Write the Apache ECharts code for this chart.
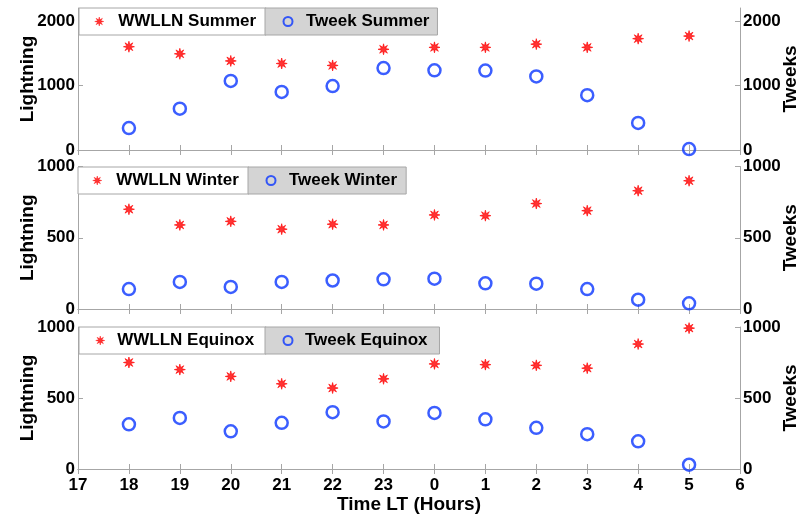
<!DOCTYPE html>
<html>
<head>
<meta charset="utf-8">
<script src="https://cdn.jsdelivr.net/npm/echarts@6/dist/echarts.min.js"></script>
<style>html,body{margin:0;padding:0;background:#fff;}#c{width:799px;height:515px;}</style>
</head>
<body>
<div id="c"></div>
<script>
const hours = [18, 19, 20, 21, 22, 23, 0, 1, 2, 3, 4, 5];
const xTickLabels = [17, 18, 19, 20, 21, 22, 23, 0, 1, 2, 3, 4, 5, 6];
const wwllnSummer = [1600, 1490, 1380, 1340, 1310, 1560, 1590, 1590, 1640, 1590, 1725, 1765];
const tweekSummer = [340, 640, 1070, 900, 990, 1270, 1235, 1230, 1140, 850, 420, 15];
const wwllnWinter = [700, 590, 615, 560, 595, 590, 660, 655, 740, 690, 830, 900];
const tweekWinter = [140, 190, 155, 190, 200, 208, 213, 180, 178, 140, 65, 40];
const wwllnEquinox = [750, 700, 652, 600, 570, 635, 740, 735, 730, 710, 880, 992];
const tweekEquinox = [315, 360, 265, 325, 400, 335, 395, 350, 290, 245, 195, 30];
const seasons = ['Summer', 'Winter', 'Equinox'];

const FONT = 'Liberation Sans';
const GRAY = '#a6a6a6';
const RED = '#ff0000';
const BLUE = '#0a36ff';
const STAR = 'path://M5,0L5.77,3.15L8.54,1.46L6.85,4.23L10,5L6.85,5.77L8.54,8.54L5.77,6.85L5,10L4.23,6.85L1.46,8.54L3.15,5.77L0,5L3.15,4.23L1.46,1.46L4.23,3.15Z';

const toX = h => (h < 17 ? h + 24 : h);
const pairs = vals => hours.map((h, i) => [toX(h), vals[i]]);

const grids = [
  {left: 78, right: 59, top: 8, height: 142},
  {left: 78, right: 59, top: 166.5, height: 142.5},
  {left: 78, right: 59, top: 327, height: 142}
].map(g => ({...g, containLabel: false, outerBoundsMode: 'none'}));
const yMax = [2200, 1000, 1000];
const yInt = [1000, 500, 500];
const wwData = [wwllnSummer, wwllnWinter, wwllnEquinox];
const twData = [tweekSummer, tweekWinter, tweekEquinox];

const xAxes = [], yAxes = [], series = [], legends = [];
const lineStyle = {color: GRAY, width: 1};
const labelStyle = {color: '#000', fontFamily: FONT, fontWeight: 'bold', fontSize: 17};
const nameStyle = {color: '#000', fontFamily: FONT, fontWeight: 'bold', fontSize: 19};

// [left, padLeft, textExtra, padRight]
const legendLayout = [
  [[79, 15.5, 9.5, 10], [265, 17.5, 8.5, 8]],
  [[78, 14.5, 9.5, 10], [248, 17.5, 8.5, 9]],
  [[79, 16.5, 7.5, 12], [265, 17.5, 7.5, 12]]
];
const legendTop = [8, 167, 327];

for (let g = 0; g < 3; g++) {
  const isLast = g === 2;
  xAxes.push({
    gridIndex: g, type: 'value', position: 'bottom', min: 17, max: 30, interval: 1,
    axisLine: {show: true, lineStyle}, axisTick: {show: true, inside: true, length: 5, lineStyle},
    splitLine: {show: false},
    axisLabel: {show: isLast, ...labelStyle, margin: 8,
      formatter: v => String(xTickLabels[Math.round(v) - 17])},
    name: isLast ? 'Time LT (Hours)' : '', nameLocation: 'middle', nameGap: 24, nameTextStyle: nameStyle
  });
  xAxes.push({
    gridIndex: g, type: 'value', position: 'top', min: 17, max: 30, interval: 1,
    axisLine: {show: true, lineStyle}, axisTick: {show: true, inside: true, length: 5, lineStyle},
    splitLine: {show: false}, axisLabel: {show: false}
  });
  const yCommon = {
    gridIndex: g, type: 'value', min: 0, max: yMax[g], interval: yInt[g],
    axisLine: {show: true, lineStyle}, axisTick: {show: true, inside: true, length: 5, lineStyle},
    splitLine: {show: false},
    axisLabel: {...labelStyle, margin: 3, showMaxLabel: g === 0 ? false : true, formatter: v => String(v)},
    nameLocation: 'middle', nameRotate: 90, nameTextStyle: nameStyle, nameMoveOverlap: false
  };
  yAxes.push({...yCommon, position: 'left', name: 'Lightning', nameGap: 41});
  yAxes.push({...yCommon, position: 'right', name: 'Tweeks', nameGap: 41});

  const n1 = 'WWLLN ' + seasons[g], n2 = 'Tweek ' + seasons[g];
  series.push({
    name: n1, type: 'scatter', xAxisIndex: 2 * g, yAxisIndex: 2 * g,
    data: pairs(wwData[g]), symbol: STAR, symbolSize: 11,
    itemStyle: {color: RED, borderColor: RED, borderWidth: 0.8},
    emphasis: {disabled: true}, silent: true, z: 3
  });
  series.push({
    name: n2, type: 'scatter', xAxisIndex: 2 * g, yAxisIndex: 2 * g + 1,
    data: pairs(twData[g]), symbol: 'circle', symbolSize: 12,
    itemStyle: {color: 'rgba(0,0,0,0)', borderColor: BLUE, borderWidth: 2.5},
    emphasis: {disabled: true}, silent: true, z: 3
  });
  const names = [n1, n2];
  const bgs = ['#ffffff', '#d4d4d4'];
  for (let k = 0; k < 2; k++) {
    const [left, pl, tx, pr] = legendLayout[g][k];
    legends.push({
      orient: 'horizontal', top: legendTop[g], left, itemWidth: 9, itemHeight: 9,
      selectedMode: false, padding: [5, pr, 5, pl], borderColor: GRAY, borderWidth: 1,
      backgroundColor: bgs[k], data: [names[k]],
      itemStyle: k === 0 ? {borderWidth: 0.5} : {borderWidth: 2},
      textStyle: {color: '#000', fontFamily: FONT, fontWeight: 'bold', fontSize: 17, lineHeight: 17,
        padding: [0, 0, 0, tx]},
      z: 10
    });
  }
}

const chart = echarts.init(document.getElementById('c'), null, {renderer: 'canvas'});
chart.setOption({
  animation: false,
  backgroundColor: '#ffffff',
  grid: grids,
  xAxis: xAxes,
  yAxis: yAxes,
  legend: legends,
  series
});
</script>
</body>
</html>
